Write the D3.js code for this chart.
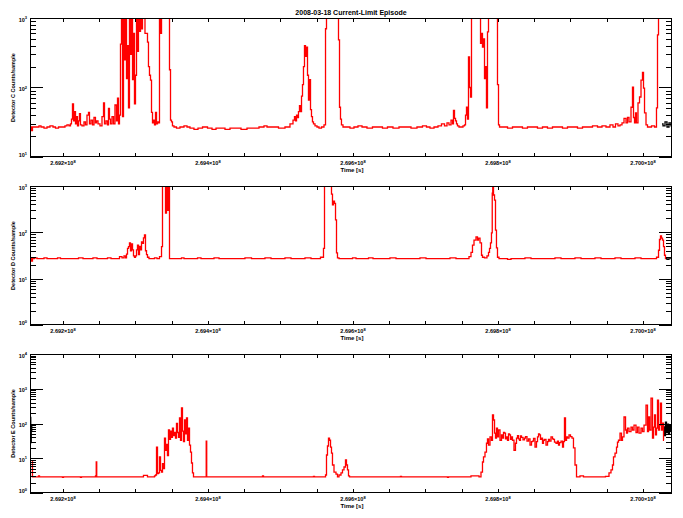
<!DOCTYPE html>
<html><head><meta charset="utf-8">
<script src="https://cdn.jsdelivr.net/npm/d3@7"></script>
<style>
body{margin:0;background:#fff}
svg text{font-family:"Liberation Sans",Arial,sans-serif;fill:#000;font-weight:bold}
</style>
</head><body>
<svg id="chart" width="683" height="518"></svg>
<script>
// ---------------- DATA ----------------
// time in kiloseconds after 2.69e8 s ; values in counts/sample
const title = "2008-03-18 Current-Limit Episode";
const xLabel = "Time [s]";
const xDomain = [154.5, 1040.0];
const xMajorTicks = [200, 400, 600, 800, 1000];
const xMajorLabels = ["2.692", "2.694", "2.696", "2.698", "2.700"];
const xExponent = "8";
const xMinorStep = 50;
const yLabels = ["Detector C Counts/sample", "Detector D Counts/sample", "Detector E Counts/sample"];
const yDecadesC = [1, 3];
const yDecadesD = [0, 3];
const yDecadesE = [0, 4];

const detC = [[155.9,27],[157.2,24],[158.6,27],[160.0,27],[165.5,27],[168.3,28],[171.0,27],[176.6,26],[179.3,27],[184.8,28],[187.6,27],[191.7,26],[195.9,27],[201.4,27],[204.1,28],[206.9,29],[209.7,28],[211.0,30],[212.4,35],[213.8,58],[215.2,33],[216.6,45],[217.9,30],[219.3,38],[220.7,28],[222.1,33],[223.4,42],[224.8,29],[227.6,28],[230.3,32],[231.7,29],[234.5,40],[235.9,44],[237.2,30],[240.0,34],[241.4,29],[244.1,37],[245.5,31],[246.9,33],[249.7,30],[252.4,28],[255.2,38],[256.6,60],[257.9,30],[260.7,33],[262.1,29],[263.4,50],[264.8,35],[266.2,30],[269.0,38],[270.3,30],[273.1,56],[274.5,33],[275.9,70],[277.2,30],[278.6,40],[280.0,420],[281.4,1200],[282.8,38],[284.1,1200],[285.5,250],[286.9,1200],[288.3,134],[289.7,400],[291.0,51],[292.4,1200],[293.8,300],[295.2,1200],[296.6,130],[297.9,600],[299.3,58],[300.7,150],[302.1,1200],[303.4,330],[304.8,1200],[306.2,640],[307.6,1200],[309.0,700],[310.3,1200],[315.9,600],[317.2,450],[318.6,200],[320.0,150],[321.4,128],[322.8,44],[324.1,31],[325.5,34],[326.9,29],[328.3,44],[329.7,30],[331.0,32],[332.4,31],[333.8,1200],[335.2,600],[336.6,1200],[346.2,1200],[347.6,180],[349.0,34],[350.3,32],[351.7,28],[354.5,27],[358.6,26],[364.1,27],[369.7,28],[372.4,27],[377.9,26],[383.4,25],[389.0,26],[395.9,27],[402.8,26],[408.3,25],[413.8,26],[419.3,26],[427.6,25],[433.1,26],[441.4,26],[449.7,25],[457.9,26],[466.2,26],[474.5,27],[480.0,28],[482.8,27],[492.4,27],[502.1,26],[510.3,27],[515.9,30],[518.6,34],[520.0,38],[521.4,33],[522.8,40],[524.1,37],[525.5,45],[526.9,55],[528.3,45],[529.7,75],[531.0,110],[532.4,200],[533.8,400],[535.2,280],[536.6,380],[537.9,150],[539.3,66],[540.7,130],[542.1,48],[543.4,38],[544.8,32],[546.2,30],[549.0,28],[551.7,27],[554.5,26],[558.6,27],[561.4,29],[562.8,700],[564.1,1200],[579.3,1200],[580.7,485],[582.1,52],[583.4,35],[584.8,29],[587.6,27],[593.1,27],[598.6,26],[604.1,27],[609.7,28],[615.2,27],[623.4,26],[630.3,27],[637.2,27],[644.1,26],[651.0,27],[659.3,26],[667.6,27],[675.9,27],[684.1,26],[692.4,27],[699.3,28],[703.4,27],[709.0,26],[714.5,27],[720.0,28],[724.1,30],[728.3,28],[731.0,31],[733.8,29],[736.6,34],[737.9,30],[739.3,47],[740.7,36],[742.1,33],[743.4,30],[744.8,28],[747.6,27],[750.3,27],[753.1,28],[754.5,29],[755.9,40],[757.2,52],[758.6,35],[760.0,275],[761.4,100],[762.8,73],[764.1,1200],[775.2,1200],[776.6,430],[777.9,600],[779.3,380],[780.7,500],[782.1,134],[783.4,200],[784.8,51],[786.2,630],[787.6,1200],[798.6,1200],[800.0,110],[801.4,29],[802.8,27],[809.7,27],[816.6,26],[823.4,27],[830.3,27],[837.2,26],[844.1,27],[851.0,27],[857.9,26],[864.8,27],[871.7,26],[878.6,27],[885.5,27],[892.4,26],[899.3,27],[906.2,27],[913.1,26],[920.0,27],[926.9,27],[933.8,28],[940.7,27],[946.2,28],[951.7,27],[957.2,29],[960.0,27],[964.1,30],[966.9,28],[969.7,29],[972.4,31],[975.2,36],[977.9,31],[979.3,37],[982.1,32],[984.8,52],[986.2,101],[987.6,37],[989.0,31],[990.3,43],[991.7,31],[994.5,60],[995.9,73],[998.6,128],[1000.0,165],[1001.4,98],[1002.8,43],[1005.5,29],[1006.9,27],[1009.7,27],[1013.8,28],[1017.9,27],[1019.3,51],[1020.7,570],[1022.1,1200],[1023.4,1200]];
const edgesC = [[[154.5,27],[155.9,27]],[[1026.2,30],[1029.0,28],[1031.7,32],[1034.5,27],[1037.2,31],[1040.0,28]]];

const detD = [[155.9,27],[157.2,24],[158.6,27],[162.8,28],[165.5,27],[171.0,27],[176.6,28],[179.3,27],[189.0,27],[195.9,28],[197.2,27],[204.1,27],[216.6,27],[226.2,28],[229.0,27],[237.2,27],[245.5,28],[248.3,27],[257.9,27],[264.8,28],[267.6,27],[275.9,27],[280.0,30],[282.8,28],[285.5,31],[286.9,28],[288.3,34],[289.7,45],[291.0,49],[292.4,59],[293.8,40],[295.2,56],[296.6,42],[297.9,31],[299.3,29],[300.7,31],[302.1,42],[303.4,53],[304.8,33],[306.2,50],[307.6,42],[309.0,62],[310.3,58],[311.7,76],[313.1,88],[314.5,40],[315.9,33],[317.2,29],[320.0,27],[324.1,27],[328.3,28],[331.0,27],[335.2,30],[336.6,49],[337.9,1200],[340.7,1200],[342.1,260],[343.4,1200],[344.8,300],[346.2,1200],[347.6,27],[354.5,27],[361.4,27],[365.5,28],[368.3,27],[382.1,27],[389.0,28],[391.7,27],[402.8,27],[413.8,28],[416.6,27],[430.3,27],[444.1,27],[457.9,28],[462.1,27],[471.7,27],[485.5,28],[488.3,27],[499.3,27],[513.1,28],[515.9,27],[526.9,27],[540.7,28],[543.4,27],[551.7,27],[558.6,29],[560.0,45],[561.4,1200],[569.7,1200],[571.0,670],[572.4,390],[573.8,470],[575.2,420],[576.6,185],[577.9,36],[579.3,28],[582.1,27],[589.0,27],[595.9,27],[602.8,28],[605.5,27],[616.6,27],[626.2,28],[629.0,27],[644.1,27],[657.9,28],[660.7,27],[671.7,27],[685.5,27],[699.3,28],[702.1,27],[713.1,27],[726.9,27],[740.7,28],[743.4,27],[754.5,27],[758.6,27],[761.4,30],[764.1,37],[765.5,53],[768.3,68],[771.0,80],[772.4,68],[773.8,75],[776.6,59],[777.9,32],[779.3,29],[783.4,28],[786.2,31],[787.6,37],[789.0,45],[790.3,59],[791.7,97],[792.4,705],[793.1,950],[794.5,640],[795.9,497],[797.2,112],[798.6,46],[800.0,29],[802.8,27],[809.7,27],[816.6,26],[819.3,27],[830.3,27],[844.1,28],[846.9,27],[857.9,27],[871.7,27],[885.5,28],[888.3,27],[899.3,27],[913.1,28],[915.9,27],[926.9,27],[940.7,28],[943.4,27],[954.5,27],[968.3,28],[971.0,27],[982.1,27],[995.9,28],[998.6,27],[1009.7,27],[1016.6,27],[1020.7,29],[1022.1,41],[1023.4,70],[1024.8,84],[1026.2,75],[1027.6,68],[1029.0,49],[1030.3,32],[1031.7,27]];
const edgesD = [[[154.5,27],[155.9,27]],[[1031.7,27],[1034.5,26],[1037.2,28],[1040.0,27]]];

const detE = [[157.2,8],[158.6,2.9],[165.5,2.9],[166.9,3.1],[168.3,2.9],[198.6,2.9],[200.0,2.8],[201.4,2.9],[223.4,2.9],[224.8,2.8],[226.2,2.9],[244.1,2.9],[245.5,3.1],[246.2,7.8],[246.9,2.9],[278.6,2.9],[310.3,2.9],[311.7,3.2],[315.9,3.2],[317.2,2.9],[325.5,2.9],[326.9,3.1],[328.3,3.3],[329.7,21],[331.0,3.6],[332.4,3.8],[333.8,11],[335.2,4.5],[336.6,4.0],[337.9,7.0],[339.3,5.0],[340.7,38],[342.1,17],[343.4,25],[344.8,12],[346.2,65],[347.6,35],[349.0,60],[350.3,40],[351.7,74],[353.1,45],[354.5,55],[355.9,38],[357.2,100],[358.6,55],[360.0,40],[361.4,145],[362.8,33],[364.1,280],[365.5,60],[366.9,30],[368.3,126],[369.7,50],[371.0,144],[372.4,33],[373.8,74],[375.2,24],[376.6,15],[377.9,7.3],[379.3,3.8],[380.7,2.9],[397.2,2.9],[397.9,31],[398.6,2.9],[444.1,2.9],[474.5,2.9],[475.9,3.1],[477.2,2.9],[544.8,2.9],[546.2,3.0],[547.6,2.9],[561.4,2.9],[562.8,3.3],[564.1,12.4],[565.5,22.5],[566.9,38],[568.3,33],[569.7,21],[571.0,14],[572.4,6.4],[575.2,4.0],[577.9,3.5],[579.3,2.9],[582.1,3.3],[584.8,3.8],[586.2,4.6],[589.0,5.6],[590.3,8.9],[591.7,6.4],[593.1,4.6],[594.5,3.1],[595.9,2.9],[664.8,2.9],[666.2,3.0],[667.6,2.9],[729.7,2.9],[731.0,2.8],[732.4,2.9],[761.4,2.9],[764.1,3.1],[772.4,3.1],[775.2,2.9],[777.9,4.0],[779.3,7.8],[780.7,10.9],[783.4,15],[784.8,27],[786.2,36],[787.6,24],[790.3,41],[791.7,33],[793.1,176],[794.5,126],[795.9,53],[797.2,38],[798.6,74],[800.0,41],[801.4,65],[804.1,33],[805.5,47],[806.9,38],[808.3,55],[809.7,53],[811.0,36],[812.4,41],[813.8,33],[815.2,50],[816.6,47],[817.9,35],[819.3,41],[820.7,33],[823.4,17],[824.8,27],[826.2,38],[827.6,45],[829.0,36],[830.3,33],[831.7,44],[833.1,40],[835.9,34],[837.2,38],[838.6,42],[841.4,31],[842.8,36],[845.5,24],[846.9,30],[848.3,31],[849.7,37],[852.4,21],[853.8,30],[855.2,41],[856.6,50],[857.9,47],[859.3,35],[860.7,38],[862.1,27],[863.4,33],[864.8,35],[867.6,24],[869.0,30],[870.3,35],[871.7,31],[874.5,41],[875.9,36],[877.2,35],[878.6,29],[881.4,27],[882.8,31],[884.1,24],[885.5,28],[888.3,31],[889.7,21],[891.0,30],[892.4,144],[893.8,33],[895.2,41],[896.6,38],[899.3,47],[900.7,42],[903.4,38],[904.8,20],[907.6,6.4],[909.0,2.9],[917.2,3.1],[918.6,2.9],[944.8,2.9],[951.7,3.0],[954.5,3.8],[957.2,4.6],[958.6,6.4],[960.0,10.9],[962.8,14],[964.1,21],[965.5,29],[966.9,33],[969.7,53],[971.0,33],[972.4,41],[975.2,154],[976.6,65],[977.9,53],[979.3,74],[982.1,58],[984.8,79],[986.2,65],[989.0,90],[991.7,55],[993.1,79],[995.9,53],[998.6,74],[1000.0,58],[1002.8,90],[1005.5,340],[1006.9,58],[1008.3,154],[1009.7,65],[1012.4,540],[1013.8,38],[1015.2,79],[1016.6,176],[1017.9,47],[1019.3,74],[1020.7,473],[1022.1,65],[1023.4,90],[1024.8,388],[1026.2,65],[1027.6,103],[1029.0,33]];
const edgesE = [[[153.8,120],[154.5,35],[155.2,150],[155.9,28],[156.6,90],[157.2,60]],[[1029.0,80],[1030.3,45],[1031.7,110],[1033.1,55],[1034.5,95],[1035.9,50],[1037.2,85],[1038.6,60],[1040.0,70]]];

// ---------------- DRAWING ----------------
const svg = d3.select("#chart");
const L = 30, R = 672;
const x = d3.scaleLinear().domain(xDomain).range([L, R]);

const panels = [
  {data: detC, edges: edgesC, dec: yDecadesC, label: yLabels[0], top: 18, bottom: 157},
  {data: detD, edges: edgesD, dec: yDecadesD, label: yLabels[1], top: 186, bottom: 325},
  {data: detE, edges: edgesE, dec: yDecadesE, label: yLabels[2], top: 354, bottom: 493}
];

svg.append("text").attr("x", (L + R) / 2).attr("y", 15).attr("text-anchor", "middle")
  .attr("font-size", 7).text(title);

const minorX = d3.range(xMajorTicks[0] - xMinorStep * 6, xDomain[1] + 0.01, xMinorStep)
  .filter(v => v >= xDomain[0] && v <= xDomain[1]);

panels.forEach((p, i) => {
  const y = d3.scaleLog().domain([Math.pow(10, p.dec[0]), Math.pow(10, p.dec[1])]).range([p.bottom, p.top]);
  const g = svg.append("g");
  const cid = "clip" + i;
  svg.append("clipPath").attr("id", cid).append("rect")
    .attr("x", L).attr("y", p.top).attr("width", R - L).attr("height", p.bottom - p.top);

  const line = d3.line().x(d => x(d[0])).y(d => y(d[1])).curve(d3.curveStep);
  const dg = g.append("g").attr("clip-path", `url(#${cid})`);
  p.edges.forEach(seg => dg.append("path").attr("d", line(seg)).attr("fill", "none")
    .attr("stroke", "#000").attr("stroke-width", 1.3));
  dg.append("path").attr("d", line(p.data)).attr("fill", "none")
    .attr("stroke", "#ff0000").attr("stroke-width", 1.3).attr("stroke-linejoin", "miter");

  // frame
  g.append("rect").attr("x", L + 0.5).attr("y", p.top + 0.5).attr("width", R - L - 1)
    .attr("height", p.bottom - p.top - 1).attr("fill", "none").attr("stroke", "#000").attr("stroke-width", 1);

  // y ticks
  const ax = g.append("g").attr("stroke", "#000").attr("stroke-width", 1).attr("shape-rendering", "crispEdges");
  for (let e = p.dec[0]; e <= p.dec[1]; e++) {
    const yy = Math.round(y(Math.pow(10, e))) + 0.5;
    ax.append("line").attr("x1", L).attr("x2", L + 13).attr("y1", yy).attr("y2", yy);
    ax.append("line").attr("x1", R).attr("x2", R - 13).attr("y1", yy).attr("y2", yy);
    if (e < p.dec[1]) {
      for (let m = 2; m <= 9; m++) {
        const ym = Math.round(y(m * Math.pow(10, e))) + 0.5;
        ax.append("line").attr("x1", L).attr("x2", L + 6).attr("y1", ym).attr("y2", ym);
        ax.append("line").attr("x1", R).attr("x2", R - 6).attr("y1", ym).attr("y2", ym);
      }
    }
    const t = g.append("text").attr("x", 27).attr("y", y(Math.pow(10, e)) + (e === p.dec[0] ? 0 : 3.5))
      .attr("text-anchor", "end").attr("font-size", 5.5);
    t.append("tspan").text("10");
    t.append("tspan").attr("dy", -2.5).attr("font-size", 4).text(String(e));
  }
  // x ticks
  minorX.forEach(v => {
    const xx = Math.round(x(v)) + 0.5;
    ax.append("line").attr("x1", xx).attr("x2", xx).attr("y1", p.bottom).attr("y2", p.bottom - 4);
    ax.append("line").attr("x1", xx).attr("x2", xx).attr("y1", p.top).attr("y2", p.top + 4);
  });
  xMajorTicks.forEach((v, k) => {
    const t = g.append("text").attr("x", x(v)).attr("y", p.bottom + 8).attr("text-anchor", "middle")
      .attr("font-size", 5.5);
    t.append("tspan").text(xMajorLabels[k] + "\u00d710");
    t.append("tspan").attr("dy", -2.5).attr("font-size", 4).text(xExponent);
  });
  g.append("text").attr("x", (L + R) / 2 + 1).attr("y", p.bottom + 15).attr("text-anchor", "middle")
    .attr("font-size", 6).text(xLabel);
  g.append("text").attr("transform", `translate(15,${(p.top + p.bottom) / 2}) rotate(-90)`)
    .attr("text-anchor", "middle").attr("font-size", 5.5).text(p.label);
});
</script>
</body></html>
